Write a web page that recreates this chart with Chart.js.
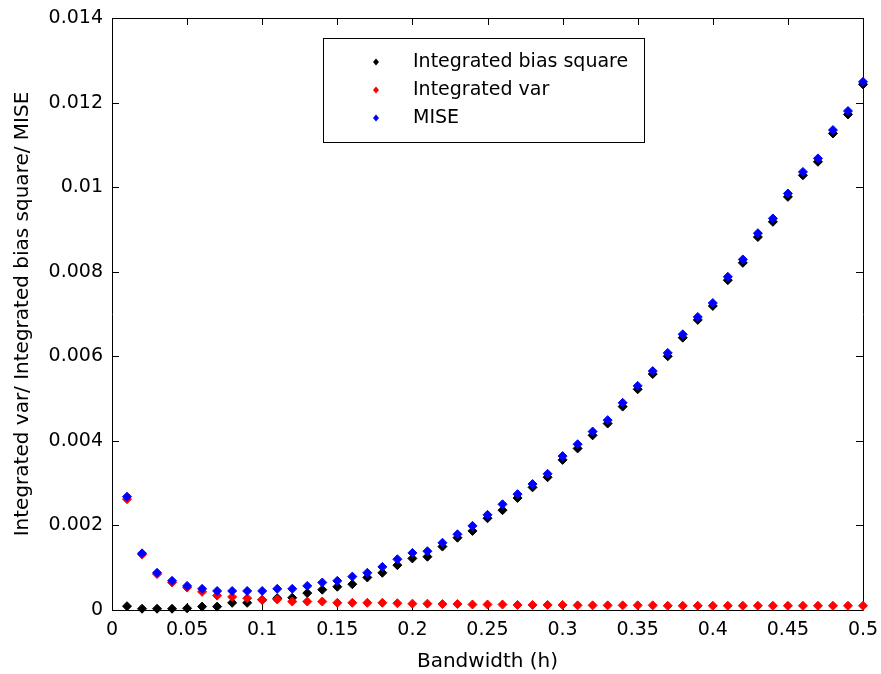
<!DOCTYPE html>
<html>
<head>
<meta charset="utf-8">
<title>MISE vs bandwidth</title>
<script src="https://cdn.jsdelivr.net/npm/chart.js@4"></script>
<style>
  html, body { margin: 0; padding: 0; background: #fff; }
  #wrap { width: 881px; height: 674px; position: relative; }
</style>
</head>
<body>
<div id="wrap"><canvas id="chart-mise" width="881" height="674"></canvas></div>
<script>
// ------------------------------------------------------------
// Data: bandwidth grid and the three error curves
// ------------------------------------------------------------

const bandwidth = [
  0.01, 0.02, 0.03, 0.04, 0.05, 0.06, 0.07, 0.08, 0.09, 0.10,
  0.11, 0.12, 0.13, 0.14, 0.15, 0.16, 0.17, 0.18, 0.19, 0.20,
  0.21, 0.22, 0.23, 0.24, 0.25, 0.26, 0.27, 0.28, 0.29, 0.30,
  0.31, 0.32, 0.33, 0.34, 0.35, 0.36, 0.37, 0.38, 0.39, 0.40,
  0.41, 0.42, 0.43, 0.44, 0.45, 0.46, 0.47, 0.48, 0.49, 0.50
];

const biasSquare = [
  0.00009, 0.00003, 0.00003, 0.00003, 0.00004, 0.00008, 0.00008, 0.00017, 0.00017, 0.00024,
  0.00028, 0.00029, 0.00040, 0.00048, 0.00055, 0.00061, 0.00077, 0.00088, 0.00106, 0.00122,
  0.00126, 0.00150, 0.00171, 0.00187, 0.00217, 0.00236, 0.00265, 0.00290, 0.00314, 0.00355,
  0.00382, 0.00413, 0.00441, 0.00481, 0.00522, 0.00558, 0.00600, 0.00644, 0.00686, 0.00719,
  0.00780, 0.00821, 0.00882, 0.00918, 0.00977, 0.01028, 0.01060, 0.01127, 0.01172, 0.01243
];

const integratedVar = [
  0.00262, 0.00131, 0.00085, 0.00065, 0.00053, 0.00043, 0.00034, 0.00031, 0.00028, 0.00024,
  0.00025, 0.00020, 0.00020, 0.00020, 0.00017, 0.00017, 0.00017, 0.00017, 0.00016, 0.00015,
  0.00015, 0.00014, 0.00014, 0.00013, 0.00013, 0.00013, 0.00012, 0.00012, 0.00012, 0.00012,
  0.00011, 0.00011, 0.00011, 0.00011, 0.00011, 0.00011, 0.00010, 0.00010, 0.00010, 0.00010,
  0.00010, 0.00010, 0.00010, 0.00010, 0.00010, 0.00010, 0.00010, 0.00010, 0.00010, 0.00010
];

const mise = [
  0.00268, 0.00134, 0.00088, 0.00069, 0.00057, 0.00050, 0.00045, 0.00045, 0.00045, 0.00045,
  0.00050, 0.00050, 0.00057, 0.00065, 0.00069, 0.00079, 0.00088, 0.00102, 0.00120, 0.00135,
  0.00139, 0.00159, 0.00179, 0.00199, 0.00225, 0.00250, 0.00274, 0.00298, 0.00322, 0.00364,
  0.00392, 0.00422, 0.00449, 0.00490, 0.00530, 0.00565, 0.00608, 0.00652, 0.00693, 0.00726,
  0.00788, 0.00829, 0.00891, 0.00926, 0.00985, 0.01036, 0.01068, 0.01135, 0.01180, 0.01249
];

const xTicks = [0, 0.05, 0.1, 0.15, 0.2, 0.25, 0.3, 0.35, 0.4, 0.45, 0.5];
const yTicks = [0, 0.002, 0.004, 0.006, 0.008, 0.01, 0.012, 0.014];

const seriesLabels = ['Integrated bias square', 'Integrated var', 'MISE'];
const seriesColors = ['#000000', '#ff0000', '#0000ff'];

const FONT = '"DejaVu Sans", "Liberation Sans", Arial, sans-serif';

// ------------------------------------------------------------
// Helpers
// ------------------------------------------------------------

function toPoints(ys) {
  return bandwidth.map((h, i) => ({ x: h, y: ys[i] }));
}

function fmtTick(v) {
  return String(parseFloat(v.toFixed(4)));
}

// axes box with inward ticks on all four sides (drawn under the markers)
const boxAxes = {
  id: 'boxAxes',
  beforeDatasetsDraw(chart) {
    const { ctx, chartArea: a, scales } = chart;
    const len = 7;
    ctx.save();
    ctx.strokeStyle = '#000';
    ctx.lineWidth = 1;
    ctx.beginPath();
    ctx.rect(Math.round(a.left) + 0.5, Math.round(a.top) + 0.5,
             Math.round(a.right - a.left), Math.round(a.bottom - a.top));
    xTicks.forEach(t => {
      const px = Math.round(scales.x.getPixelForValue(t)) + 0.5;
      ctx.moveTo(px, a.bottom); ctx.lineTo(px, a.bottom - len);
      ctx.moveTo(px, a.top); ctx.lineTo(px, a.top + len);
    });
    yTicks.forEach(t => {
      const py = Math.round(scales.y.getPixelForValue(t)) + 0.5;
      ctx.moveTo(a.left, py); ctx.lineTo(a.left + len, py);
      ctx.moveTo(a.right, py); ctx.lineTo(a.right - len, py);
    });
    ctx.stroke();
    ctx.restore();
  }
};

// legend box placed inside the axes, near the top
const insetLegend = {
  id: 'insetLegend',
  afterDatasetsDraw(chart) {
    const { ctx } = chart;
    const box = { x: 323, y: 38, w: 321, h: 104 };
    ctx.save();
    ctx.fillStyle = '#fff';
    ctx.fillRect(box.x, box.y, box.w, box.h);
    ctx.strokeStyle = '#000';
    ctx.lineWidth = 1;
    ctx.strokeRect(box.x + 0.5, box.y + 0.5, box.w, box.h);
    ctx.font = '19px ' + FONT;
    ctx.textBaseline = 'middle';
    ctx.textAlign = 'left';
    seriesLabels.forEach((label, i) => {
      const cy = box.y + 24 + i * 28;
      const cx = box.x + 53;
      ctx.fillStyle = seriesColors[i];
      ctx.beginPath();
      ctx.moveTo(cx, cy - 3.5); ctx.lineTo(cx + 3, cy);
      ctx.lineTo(cx, cy + 3.5); ctx.lineTo(cx - 3, cy);
      ctx.closePath();
      ctx.fill();
      ctx.fillStyle = '#000';
      ctx.fillText(label, box.x + 90, cy);
    });
    ctx.restore();
  }
};

// ------------------------------------------------------------
// Chart
// ------------------------------------------------------------

const datasets = seriesLabels.map((label, i) => ({
  label,
  data: toPoints([biasSquare, integratedVar, mise][i]),
  pointStyle: 'rectRot',
  pointRadius: 4.5,
  pointBorderWidth: 1,
  backgroundColor: seriesColors[i],
  borderColor: seriesColors[i],
  showLine: false,
  clip: false,
  order: 3 - i
}));

new Chart(document.getElementById('chart-mise'), {
  type: 'scatter',
  data: { datasets },
  options: {
    responsive: false,
    animation: false,
    events: [],
    layout: { padding: { top: 18, right: 18, bottom: 0, left: 0 } },
    plugins: {
      legend: { display: false },
      tooltip: { enabled: false }
    },
    scales: {
      x: {
        type: 'linear',
        min: 0,
        max: 0.5,
        afterBuildTicks: s => { s.ticks = xTicks.map(v => ({ value: v })); },
        afterFit: s => { s.height = 64; s.paddingLeft = 0; s.paddingRight = 0; },
        grid: { display: false, drawTicks: false },
        border: { display: false },
        ticks: { color: '#000', padding: 9, maxRotation: 0, autoSkip: false,
                 font: { family: FONT, size: 19 }, callback: v => fmtTick(v) },
        title: { display: true, text: 'Bandwidth (h)', color: '#000',
                 font: { family: FONT, size: 20 }, padding: { top: 4, bottom: 0 } }
      },
      y: {
        type: 'linear',
        min: 0,
        max: 0.014,
        afterBuildTicks: s => { s.ticks = yTicks.map(v => ({ value: v })); },
        afterFit: s => { s.width = 112; s.paddingTop = 0; s.paddingBottom = 0; },
        grid: { display: false, drawTicks: false },
        border: { display: false },
        ticks: { color: '#000', padding: 9, autoSkip: false,
                 font: { family: FONT, size: 19 }, callback: v => fmtTick(v) },
        title: { display: true, text: 'Integrated var/ Integrated bias square/ MISE', color: '#000',
                 font: { family: FONT, size: 20 }, padding: { top: 11, bottom: 0 } }
      }
    }
  },
  plugins: [boxAxes, insetLegend]
});
</script>
</body>
</html>
